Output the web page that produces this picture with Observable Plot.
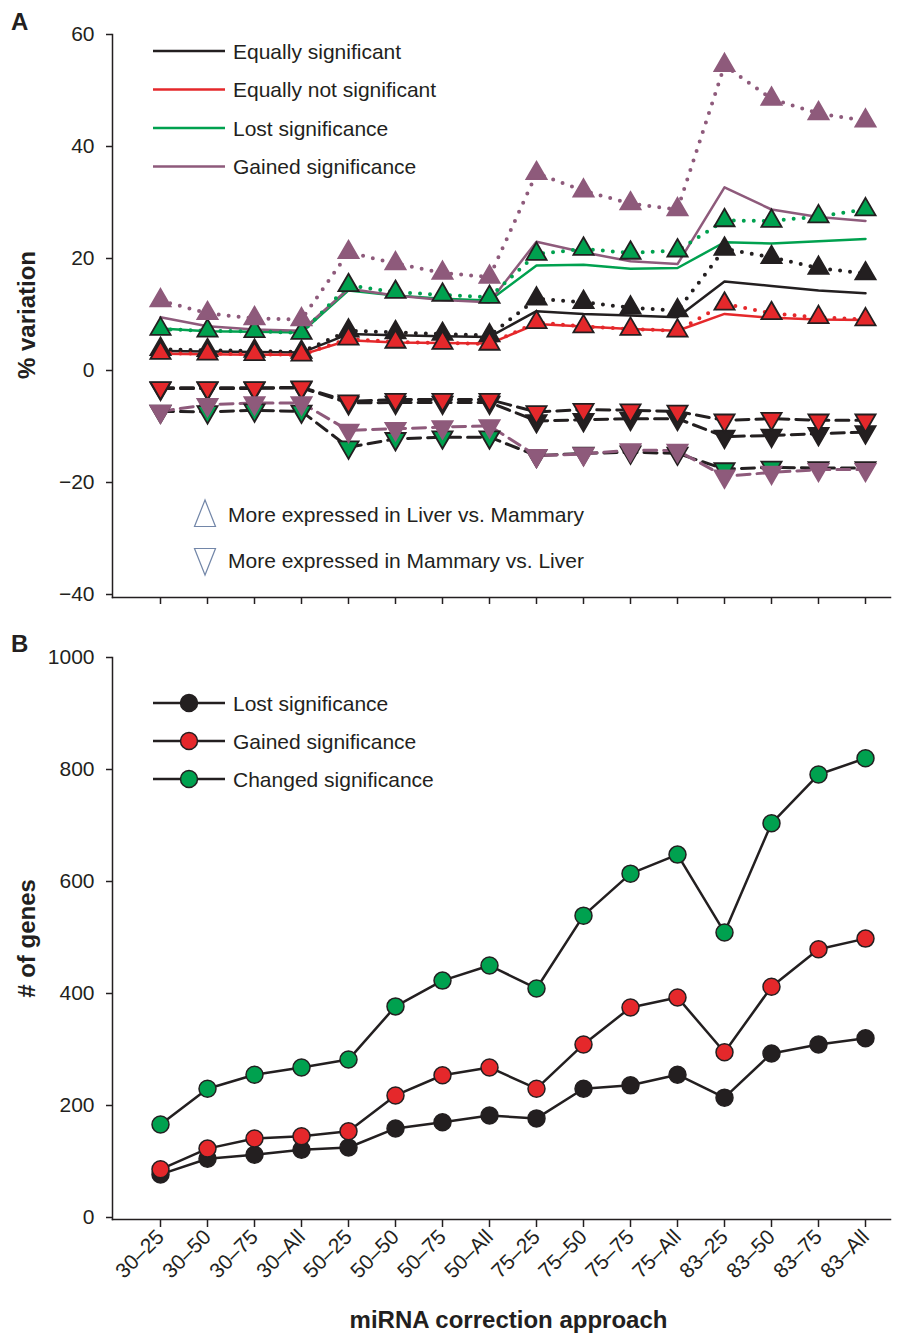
<!DOCTYPE html>
<html><head><meta charset="utf-8">
<script src="https://cdn.jsdelivr.net/npm/d3@7"></script>
<script src="https://cdn.jsdelivr.net/npm/@observablehq/plot@0.6"></script>
<style>
body{margin:0;background:#fff;font-family:"Liberation Sans",Arial,sans-serif;}
#wrap{position:relative;width:901px;height:1333px;overflow:hidden}
.panel{position:absolute;left:0;}
#overlay{position:absolute;left:0;top:0;pointer-events:none}
</style></head><body><div id="wrap"></div>
<script>
// ---------- DATA ----------
const categories = ["30–25","30–50","30–75","30–All","50–25","50–50","50–75","50–All","75–25","75–50","75–75","75–All","83–25","83–50","83–75","83–All"];

// Panel A: % variation, all genes (solid lines)
const eqSigAll    = [3.5, 3.4, 3.3, 3.2, 6.5, 6.3, 6.1, 6.0, 10.6, 10.1, 9.8, 9.5, 15.9, 15.1, 14.3, 13.8];
const eqNotSigAll = [3.0, 2.9, 2.8, 2.8, 5.4, 5.0, 4.9, 4.8, 8.3, 7.85, 7.4, 7.1, 10.1, 9.4, 9.1, 9.0];
const lostAll     = [7.5, 7.0, 6.9, 6.8, 14.3, 13.4, 12.8, 12.5, 18.75, 18.9, 18.15, 18.3, 22.9, 22.7, 23.1, 23.5];
const gainedAll   = [9.5, 7.9, 7.3, 7.1, 14.6, 13.4, 12.6, 12.2, 23.0, 21.1, 19.5, 19.0, 32.7, 28.75, 27.4, 26.7];

// Panel A: more expressed in Liver vs. Mammary (up triangles, dotted)
const eqSigUp     = [3.8, 3.6, 3.5, 3.3, 7.1, 6.8, 6.5, 6.25, 12.8, 12.2, 11.2, 10.7, 21.7, 20.2, 18.3, 17.3];
const eqNotSigUp  = [3.1, 3.0, 2.9, 2.8, 5.65, 5.1, 4.9, 4.75, 8.6, 7.85, 7.4, 7.1, 11.9, 10.2, 9.5, 9.1];
const lostUp      = [7.4, 7.1, 7.0, 6.7, 15.2, 14.0, 13.5, 13.1, 20.8, 21.7, 21.0, 21.4, 26.8, 26.7, 27.5, 28.75];
const gainedUp    = [12.5, 10.2, 9.3, 9.1, 21.1, 19.1, 17.4, 16.7, 35.2, 32.1, 29.8, 28.75, 54.5, 48.5, 45.9, 44.6];

// Panel A: more expressed in Mammary vs. Liver (down triangles, dashed)
const eqSigDown    = [-3.2, -3.2, -3.2, -3.1, -5.8, -5.7, -5.7, -5.7, -9.0, -8.8, -8.6, -8.6, -11.8, -11.6, -11.3, -11.0];
const eqNotSigDown = [-3.1, -3.1, -3.1, -3.0, -5.5, -5.2, -5.2, -5.2, -7.4, -7.0, -7.1, -7.3, -8.9, -8.6, -8.9, -8.9];
const lostDown     = [-7.3, -7.4, -7.1, -7.3, -13.7, -12.2, -11.9, -11.9, -15.2, -14.8, -14.6, -14.8, -17.6, -17.3, -17.4, -17.4];
const gainedDown   = [-7.3, -6.1, -5.8, -5.8, -10.7, -10.4, -10.1, -9.9, -15.2, -14.9, -14.2, -14.3, -18.9, -18.2, -17.7, -17.7];

// Panel B: # of genes
const lostGenes    = [77, 105, 112, 121, 125, 159, 170, 182, 177, 230, 236, 255, 214, 293, 309, 320];
const gainedGenes  = [86, 123, 141, 145, 154, 218, 254, 268, 230, 309, 375, 393, 295, 412, 479, 498];
const changedGenes = [166, 230, 255, 268, 282, 377, 423, 450, 409, 539, 614, 648, 509, 704, 791, 820];

const yTicksA = [-40, -20, 0, 20, 40, 60];
const yTicksB = [0, 200, 400, 600, 800, 1000];

// ---------- STYLE ----------
const INK = "#231f20";
const FONT = "'Liberation Sans', Arial, Helvetica, sans-serif";
const seriesA = [
  {name: "Equally significant",     color: INK,       all: eqSigAll,    up: eqSigUp,    down: eqSigDown,    dash: INK,       outline: INK},
  {name: "Equally not significant", color: "#e5282b", all: eqNotSigAll, up: eqNotSigUp, down: eqNotSigDown, dash: INK,       outline: INK},
  {name: "Lost significance",       color: "#00a14f", all: lostAll,     up: lostUp,     down: lostDown,     dash: INK,       outline: INK},
  {name: "Gained significance",     color: "#8e5a7b", all: gainedAll,   up: gainedUp,   down: gainedDown,   dash: "#8e5a7b", outline: "#8e5a7b"}
];
const rows = arr => categories.map((c, i) => ({cat: c, v: arr[i]}));
const minusFmt = d => d < 0 ? "\u2212" + Math.abs(d) : String(d);

// ---------- PANEL A ----------
const marksA = [
  Plot.frame({anchor: "left", stroke: INK, strokeWidth: 1.5}),
  Plot.frame({anchor: "bottom", stroke: INK, strokeWidth: 1.5}),
  Plot.axisY({ticks: yTicksA, tickFormat: minusFmt, tickSize: 6, tickPadding: 12, label: null, fontSize: 21, stroke: INK, strokeWidth: 1.5}),
  Plot.axisX({tickSize: 7, tickFormat: () => "", label: null, stroke: INK, strokeWidth: 1.5}),
  Plot.text(["% variation"], {frameAnchor: "left", textAnchor: "middle", rotate: -90, dx: -85, dy: -1, fontWeight: "bold", fontSize: 24, fill: INK})
];
for (const s of seriesA) {
  marksA.push(Plot.line(rows(s.all), {x: "cat", y: "v", stroke: s.color, strokeWidth: 2.5}));
}
for (const s of seriesA) {
  marksA.push(Plot.line(rows(s.up), {x: "cat", y: "v", stroke: s.color, strokeWidth: 4, strokeDasharray: "0 10", strokeLinecap: "round"}));
  marksA.push(Plot.line(rows(s.down), {x: "cat", y: "v", stroke: s.dash, strokeWidth: 3, strokeDasharray: "13 7"}));
}
for (const s of seriesA) {
  marksA.push(Plot.dot(rows(s.up), {x: "cat", y: "v", symbol: "triangle", r: 7.5, fill: s.color, stroke: s.outline, strokeWidth: 1.8}));
  marksA.push(Plot.dot(rows(s.down), {x: "cat", y: "v", symbol: "triangle", r: 7.5, rotate: 180, fill: s.color, stroke: s.outline, strokeWidth: 1.8}));
}

const plotA = Plot.plot({
  width: 901, height: 625,
  marginLeft: 112, marginRight: 11, marginTop: 34, marginBottom: 28,
  style: {fontFamily: FONT, fontSize: "21px", color: INK, background: "transparent", overflow: "visible"},
  x: {type: "point", domain: categories, range: [159, 866], padding: 0},
  y: {domain: [-40, 60], range: [594, 34]},
  marks: marksA
});

// ---------- PANEL B ----------
const seriesB = [
  {name: "Lost significance",    fill: INK,       values: lostGenes},
  {name: "Gained significance",  fill: "#e5282b", values: gainedGenes},
  {name: "Changed significance", fill: "#00a14f", values: changedGenes}
];
const marksB = [
  Plot.frame({anchor: "left", stroke: INK, strokeWidth: 1.5}),
  Plot.frame({anchor: "bottom", stroke: INK, strokeWidth: 1.5}),
  Plot.axisY({ticks: yTicksB, tickFormat: d => String(d), tickSize: 6, tickPadding: 12, label: null, fontSize: 21, stroke: INK, strokeWidth: 1.5}),
  Plot.axisX({tickSize: 8, tickPadding: 6, tickRotate: -45, label: null, fontSize: 21, stroke: INK, strokeWidth: 1.5}),
  Plot.text(["# of genes"], {frameAnchor: "left", textAnchor: "middle", rotate: -90, dx: -85, dy: 0, fontWeight: "bold", fontSize: 24, fill: INK}),
  Plot.text(["miRNA correction approach"], {frameAnchor: "bottom", lineAnchor: "middle", dx: 7, dy: 101, fontWeight: "bold", fontSize: 24, fill: INK})
];
for (const s of seriesB) marksB.push(Plot.line(rows(s.values), {x: "cat", y: "v", stroke: INK, strokeWidth: 2.5}));
for (const s of seriesB) marksB.push(Plot.dot(rows(s.values), {x: "cat", y: "v", r: 8.5, fill: s.fill, stroke: INK, strokeWidth: 1.5}));

const plotB = Plot.plot({
  width: 901, height: 708,
  marginLeft: 112, marginRight: 11, marginTop: 32, marginBottom: 114,
  style: {fontFamily: FONT, fontSize: "21px", color: INK, background: "transparent", overflow: "visible"},
  x: {type: "point", domain: categories, range: [159, 866], padding: 0},
  y: {domain: [0, 1000], range: [592, 32]},
  marks: marksB
});

const wrap = document.getElementById("wrap");
plotA.classList.add("panel"); plotA.style.top = "0px";
plotB.classList.add("panel"); plotB.style.top = "625px";
wrap.appendChild(plotA);
wrap.appendChild(plotB);

// ---------- LEGENDS & PANEL LETTERS (overlay) ----------
const ov = d3.select(wrap).append("svg").attr("id", "overlay").attr("width", 901).attr("height", 1333)
  .style("font-family", FONT).style("fill", INK);
ov.append("text").attr("x", 11).attr("y", 30).attr("font-size", 24).attr("font-weight", "bold").text("A");
ov.append("text").attr("x", 11).attr("y", 652).attr("font-size", 24).attr("font-weight", "bold").text("B");

seriesA.forEach((s, i) => {
  const y = 51 + i * 38.5;
  ov.append("line").attr("x1", 153).attr("x2", 225).attr("y1", y).attr("y2", y).attr("stroke", s.color).attr("stroke-width", 2.5);
  ov.append("text").attr("x", 233).attr("y", y + 7.5).attr("font-size", 21).text(s.name);
});
const dirLegend = [
  {label: "More expressed in Liver vs. Mammary", y: 514, path: "M205,500 L194.5,526.5 L215.5,526.5 Z"},
  {label: "More expressed in Mammary vs. Liver", y: 560, path: "M205,575 L194.5,548.5 L215.5,548.5 Z"}
];
dirLegend.forEach(d => {
  ov.append("path").attr("d", d.path).attr("fill", "none").attr("stroke", "#7286a8").attr("stroke-width", 1.2);
  ov.append("text").attr("x", 228).attr("y", d.y + 8).attr("font-size", 21).text(d.label);
});
seriesB.forEach((s, i) => {
  const y = 703 + i * 38;
  ov.append("line").attr("x1", 153).attr("x2", 225).attr("y1", y).attr("y2", y).attr("stroke", INK).attr("stroke-width", 2.5);
  ov.append("circle").attr("cx", 189).attr("cy", y).attr("r", 8.5).attr("fill", s.fill).attr("stroke", INK).attr("stroke-width", 1.5);
  ov.append("text").attr("x", 233).attr("y", y + 7.5).attr("font-size", 21).text(s.name);
});
</script></body></html>
